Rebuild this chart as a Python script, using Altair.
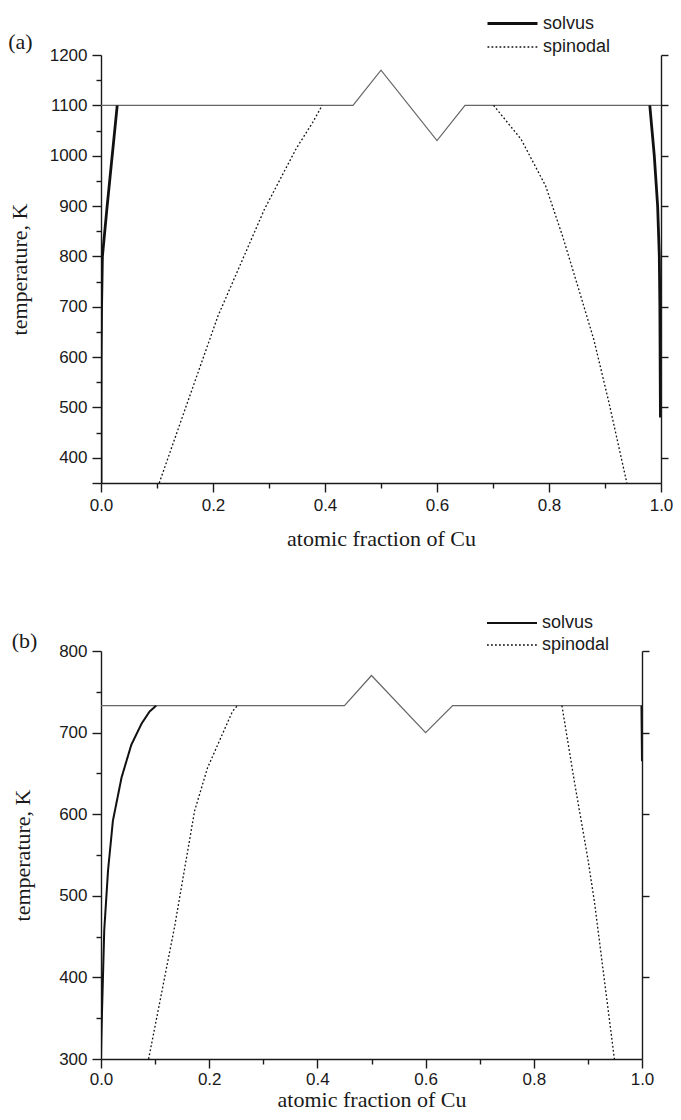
import altair as alt
import pandas as pd

# ---------------- data ----------------
SERIES = ["solvus", "spinodal"]

# panel (a)
a_sol_left_x = [0.0, 0.0001, 0.0003, 0.001, 0.0025, 0.011, 0.020, 0.029]
a_sol_left_T = [350, 500, 600, 700, 800, 900, 1000, 1100]
a_sol_right_x = [0.980, 0.988, 0.994, 0.997, 0.998, 0.999]
a_sol_right_T = [1100, 1000, 900, 800, 700, 480]
a_spin_left_x = [0.104, 0.150, 0.209, 0.292, 0.349, 0.378, 0.395]
a_spin_left_T = [350, 496, 682, 894, 1015, 1066, 1100]
a_spin_right_x = [0.701, 0.750, 0.794, 0.824, 0.853, 0.880, 0.907, 0.939]
a_spin_right_T = [1100, 1033, 940, 841, 735, 635, 510, 350]
a_line_x = [0.0, 0.45, 0.50, 0.60, 0.65, 1.0]
a_line_T = [1100, 1100, 1170, 1030, 1100, 1100]

# panel (b)
b_sol_left_x = [0.0, 0.0005, 0.002, 0.006, 0.013, 0.022, 0.038, 0.056, 0.075, 0.090, 0.102]
b_sol_left_T = [300, 320, 361, 458, 531, 592, 645, 685, 711, 726, 733]
b_sol_right_x = [0.999, 1.0]
b_sol_right_T = [733, 665]
b_spin_left_x = [0.088, 0.136, 0.173, 0.197, 0.243, 0.252]
b_spin_left_T = [300, 462, 604, 657, 726, 733]
b_spin_right_x = [0.852, 0.875, 0.900, 0.912, 0.949]
b_spin_right_T = [733, 640, 545, 493, 300]
b_line_x = [0.0, 0.45, 0.50, 0.60, 0.65, 1.0]
b_line_T = [733, 733, 770, 700, 733, 733]

x_ticks = [round(0.1 * k, 1) for k in range(11)]

SANS = "Liberation Sans"
SERIF = "Liberation Serif"
INK = "#1a1a1a"


def curves_frame(sol_l, sol_r, spin_l, spin_r):
    rows = []
    for series, branch, (xs, ts) in [
        ("solvus", "sol_l", sol_l),
        ("solvus", "sol_r", sol_r),
        ("spinodal", "spin_l", spin_l),
        ("spinodal", "spin_r", spin_r),
    ]:
        for i, (x, t) in enumerate(zip(xs, ts)):
            rows.append({"x": x, "T": t, "series": series, "branch": branch, "i": i})
    return pd.DataFrame(rows)


def make_panel(label, df, line_df, ydom, w, h, solvus_w, xtitle, ytitle,
               ytitle_pad, xtitle_pad, xlabel_pad, legend_y, legend_pad, title_dy):
    lo, hi = ydom
    xscale = alt.Scale(domain=[0, 1], nice=False, zero=False)
    yscale = alt.Scale(domain=[lo, hi], nice=False, zero=False)
    y_all = list(range(lo, hi + 1, 50))
    y_major = [v for v in range(lo, hi + 1, 50) if v % 100 == 0 and v > 300]

    common = dict(grid=False, domainColor=INK, tickColor=INK, domainWidth=1.4,
                  tickWidth=1.4, labelColor=INK, titleColor=INK,
                  labelFont=SANS, labelFontSize=17, titleFont=SERIF,
                  titleFontSize=22, titleFontWeight="normal",
                  labelOverlap=False, labelFlush=False)

    xaxis = alt.Axis(
        values=x_ticks, format=".1f",
        labelExpr="round(datum.value*10) % 2 == 0 ? datum.label : ''",
        tickSize={"condition": {"test": "round(datum.value*10) % 2 == 0", "value": 9}, "value": 5},
        title=xtitle, titlePadding=xtitle_pad, labelPadding=xlabel_pad, **common)
    yaxis = alt.Axis(
        values=y_all, format="d",
        labelExpr="datum.value % 100 == 0 ? datum.label : ''",
        tickSize={"condition": {"test": f"datum.value % 100 == 0 || datum.value == {lo}", "value": 9}, "value": 5},
        title=ytitle, titlePadding=ytitle_pad, labelPadding=5, **common)
    yaxis_r = alt.Axis(orient="right", values=y_major, labels=False, title=None,
                       tickSize=7, **common)

    # a 50 px horizontal line symbol in a compact 20 px row
    leg = alt.Legend(orient="none", legendX=400, legendY=legend_y, title=None,
                     direction="vertical", labelFont=SANS, labelFontSize=18,
                     labelColor=INK, symbolType="M-2.5,0H2.5", symbolSize=400,
                     labelOffset=19, rowPadding=legend_pad, padding=0)

    curves = alt.Chart(df).mark_line(clip=True).encode(
        x=alt.X("x:Q", scale=xscale, axis=xaxis),
        y=alt.Y("T:Q", scale=yscale, axis=yaxis),
        detail="branch:N",
        order="i:Q",
        color=alt.Color("series:N", scale=alt.Scale(domain=SERIES, range=["#111111", "#111111"]), legend=leg),
        strokeDash=alt.StrokeDash("series:N", scale=alt.Scale(domain=SERIES, range=[[1, 0], [1.8, 2.2]]), legend=leg),
        strokeWidth=alt.StrokeWidth("series:N", scale=alt.Scale(domain=SERIES, range=[solvus_w, 1.3]), legend=leg),
    )
    line = alt.Chart(line_df).mark_line(color="#666666", strokeWidth=1.2, clip=True).encode(
        x=alt.X("x:Q", scale=xscale, axis=xaxis),
        y=alt.Y("T:Q", scale=yscale, axis=yaxis_r),
    )
    return alt.layer(line, curves).resolve_axis(y="independent").properties(
        width=w, height=h,
        title=alt.TitleParams(label, anchor="start", font=SERIF, fontSize=22,
                              fontWeight="normal", color=INK, frame="bounds",
                              dy=title_dy),
    )


df_a = curves_frame((a_sol_left_x, a_sol_left_T), (a_sol_right_x, a_sol_right_T),
                    (a_spin_left_x, a_spin_left_T), (a_spin_right_x, a_spin_right_T))
line_a = pd.DataFrame({"x": a_line_x, "T": a_line_T})
df_b = curves_frame((b_sol_left_x, b_sol_left_T), (b_sol_right_x, b_sol_right_T),
                    (b_spin_left_x, b_spin_left_T), (b_spin_right_x, b_spin_right_T))
line_b = pd.DataFrame({"x": b_line_x, "T": b_line_T})

panel_a = make_panel("(a)", df_a, line_a, (350, 1200), 560, 428, 2.8,
                     "atomic fraction of  Cu", "temperature, K", 18, 15, 5, -43, 3, 46)
panel_b = make_panel("(b)", df_b, line_b, (300, 800), 541, 408, 2.0,
                     "atomic fraction of Cu", "temperature,  K", 24, 2, 3, -39, 2, 45)

chart = alt.vconcat(panel_a, panel_b, spacing=63).resolve_scale(
    color="independent", strokeDash="independent", strokeWidth="independent"
).resolve_legend(
    color="independent", strokeDash="independent", strokeWidth="independent"
).properties(
    padding={"left": 0, "top": 4, "right": 0, "bottom": 0}
).configure_view(stroke=None)

chart.save("out.html", embed_options={"renderer": "svg", "actions": False})
